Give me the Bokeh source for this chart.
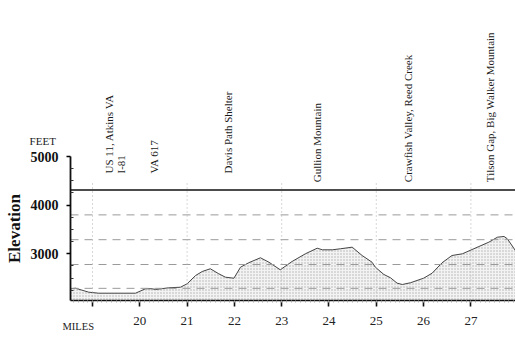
from math import pi
from bokeh.plotting import figure
from bokeh.models import Range1d, FixedTicker, Label
from bokeh.embed import file_html
from bokeh.resources import INLINE
from bokeh.core.properties import value

# Elevation profile (miles, feet)
miles = [18.535, 18.64, 18.92, 19.13, 19.91, 20.12, 20.26, 20.33, 20.61, 20.86,
         21.00, 21.18, 21.32, 21.49, 21.67, 21.81, 21.99, 22.13, 22.30, 22.55, 22.73,
         22.97, 23.22, 23.50, 23.75, 23.86, 24.07, 24.24, 24.49, 24.70, 24.91, 24.98,
         25.16, 25.30, 25.44, 25.55, 25.72, 26.00, 26.18, 26.39, 26.60, 26.82, 27.17,
         27.38, 27.56, 27.70, 27.77, 27.94, 28.1]
elev = [2281, 2293, 2211, 2190, 2190, 2281, 2281, 2266, 2301, 2313,
        2383, 2554, 2636, 2692, 2589, 2519, 2498, 2725, 2815, 2918, 2827,
        2671, 2842, 3000, 3115, 3082, 3082, 3103, 3136, 2965, 2827, 2725,
        2575, 2507, 2396, 2369, 2404, 2498, 2601, 2815, 2965, 3000, 3150,
        3239, 3341, 3356, 3309, 3068, 2900]

# Waypoints
wp_names = ["US 11, Atkins VA", "I-81", "VA 617", "Davis Path Shelter",
            "Gullion Mountain", "Crawfish Valley, Reed Creek",
            "Tilson Gap, Big Walker Mountain"]
wp_miles = [19.34, 19.61, 20.31, 21.86, 23.75, 25.68, 27.41]
wp_base = [4651, 4651, 4651, 4651, 4472, 4472, 4472]

# Reference lines
ref_solid = 4310
ref_dashed = [3800, 3290, 2780, 2290]
odd_miles = [19, 21, 23, 25, 27]

x_ticks = [19, 20, 21, 22, 23, 24, 25, 26, 27, 28]
x_minor = [round(18.6 + 0.1 * i, 1) for i in range(95)]
y_ticks = [3000, 4000, 5000]
y_minor = [2250, 2500, 2750, 3250, 3500, 3750, 4250, 4500, 4750]

X0, X1 = 18.535, 28.2      # chart extent in miles
Y0, YTOP = 2040, 5000      # elevation axis extent in feet

SERIF = "Liberation Serif"

p = figure(width=515, height=352, output_backend="svg", toolbar_location=None,
           x_range=Range1d(17.055, 27.943), y_range=Range1d(971, 8207),
           min_border=0)
p.outline_line_color = None
p.grid.visible = False
p.background_fill_color = "white"
p.border_fill_color = "white"

# filled profile
p.varea(x=miles, y1=Y0, y2=elev, fill_color="#f3f3f3",
        hatch_pattern="dot", hatch_color="#777777", hatch_scale=3, hatch_alpha=0.55)
p.line(miles, elev, line_color="#444444", line_width=1)

# reference lines
p.segment(x0=[X0] * len(ref_dashed), y0=ref_dashed, x1=[X1] * len(ref_dashed),
          y1=ref_dashed, line_color="#9a9a9a", line_dash="8 6", line_width=1)
p.segment(x0=[X0], y0=[ref_solid], x1=[X1], y1=[ref_solid], line_color="#111111",
          line_width=1.4)
p.segment(x0=odd_miles, y0=[Y0] * len(odd_miles), x1=odd_miles,
          y1=[4500] * len(odd_miles), line_color="#b0b0b0", line_dash="1 3",
          line_width=1)

p.text(x=wp_miles, y=wp_base, text=wp_names, angle=pi / 2, text_align="left",
       text_baseline="middle", text_font=value(SERIF), text_font_size="11px",
       text_color="#1a1a1a")

# axes
xa = p.xaxis[0]
xa.fixed_location = Y0
xa.bounds = (X0, X1)
xa.ticker = FixedTicker(ticks=x_ticks, minor_ticks=x_minor)
xa.major_label_overrides = {19: ""}
xa.major_label_text_font = SERIF
xa.major_label_text_font_size = "13px"
xa.major_label_text_color = "#222222"
xa.major_label_standoff = 11
xa.axis_line_width = 1.6
xa.axis_line_color = "#111111"
xa.major_tick_line_width = 1.6
xa.major_tick_line_color = "#111111"
xa.major_tick_out = 6
xa.major_tick_in = 0
xa.minor_tick_out = 2
xa.minor_tick_in = 0
xa.minor_tick_line_color = "#aaaaaa"

ya = p.yaxis[0]
ya.fixed_location = X0
ya.ticker = FixedTicker(ticks=y_ticks, minor_ticks=y_minor)
ya.bounds = (Y0, YTOP)
ya.axis_label = "Elevation"
ya.axis_label_text_font = SERIF
ya.axis_label_text_font_style = "bold"
ya.axis_label_text_font_size = "17px"
ya.axis_label_text_color = "#111111"
ya.axis_label_standoff = 4
ya.major_label_text_font = SERIF
ya.major_label_text_font_style = "bold"
ya.major_label_text_font_size = "14px"
ya.major_label_text_color = "#111111"
ya.major_label_standoff = 8
ya.axis_line_width = 1.8
ya.axis_line_color = "#111111"
ya.major_tick_out = 4
ya.major_tick_in = 0
ya.major_tick_line_width = 1.6
ya.minor_tick_in = 3
ya.minor_tick_out = 0
ya.minor_tick_line_color = "#333333"

# unit captions
p.add_layout(Label(x=17.67, y=5309, text="FEET",
                   text_font=SERIF, text_font_size="11px",
                   text_baseline="middle", text_color="#222222"))
p.add_layout(Label(x=18.366, y=1505, text="MILES",
                   text_font=SERIF, text_font_size="10.5px",
                   text_baseline="middle", text_color="#222222"))

open("out.html", "w").write(file_html(p, INLINE))
